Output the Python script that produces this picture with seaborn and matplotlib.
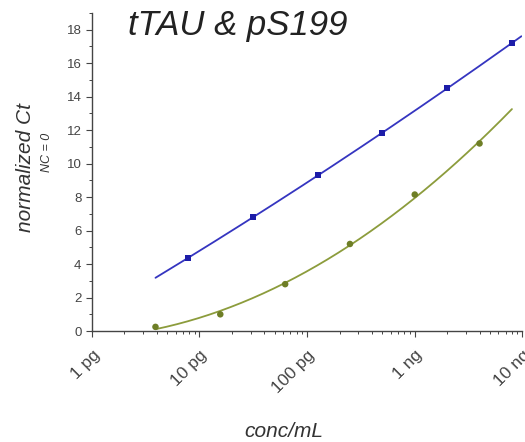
import numpy as np
import pandas as pd
import matplotlib
matplotlib.use("Agg")
import matplotlib.pyplot as plt
import seaborn as sns
from matplotlib.ticker import FixedLocator, LogLocator, MultipleLocator, NullFormatter

# concentrations in pg/mL (4-fold dilution series)
conc_ttau = [7.8, 31.25, 125, 500, 2000, 8000]
ct_ttau = [4.35, 6.8, 9.3, 11.8, 14.5, 17.2]
conc_ps199 = [3.9, 15.6, 62.5, 250, 1000, 4000]
ct_ps199 = [0.25, 1.0, 2.8, 5.2, 8.15, 11.2]

tick_pos = [1, 10, 100, 1000, 10000]
tick_labels = ["1 pg", "10 pg", "100 pg", "1 ng", "10 ng"]

blue_line, blue_pt = "#3535c0", "#1c1ca8"
green_line, green_pt = "#8c9c3c", "#6e7e26"

sns.set_style("ticks")
plt.rcParams["font.family"] = ["Liberation Sans", "DejaVu Sans"]

fig = plt.figure(figsize=(5.25, 4.42), dpi=100)
ax = fig.add_axes([0.175, 0.251, 0.820, 0.720])

def fit_curve(x, y, x0, x1):
    lx = np.log10(x)
    coef = np.polyfit(lx, y, 2)
    gx = np.linspace(np.log10(x0), np.log10(x1), 200)
    return pd.DataFrame({"conc": 10 ** gx, "ct": np.polyval(coef, gx)})

fit_t = fit_curve(conc_ttau, ct_ttau, 3.9, 9800)
fit_p = fit_curve(conc_ps199, ct_ps199, 3.9, 8000)

sns.lineplot(data=fit_t, x="conc", y="ct", color=blue_line, lw=1.3, ax=ax)
sns.lineplot(data=fit_p, x="conc", y="ct", color=green_line, lw=1.3, ax=ax)
sns.scatterplot(x=conc_ttau, y=ct_ttau, color=blue_pt, marker="s", s=18,
                edgecolor="none", ax=ax, zorder=3)
sns.scatterplot(x=conc_ps199, y=ct_ps199, color=green_pt, marker="o", s=22,
                edgecolor="none", ax=ax, zorder=3)

ax.set_xscale("log")
ax.set_xlim(1, 10000)
ax.set_ylim(0, 19)
sns.despine(ax=ax)

ax.xaxis.set_major_locator(FixedLocator(tick_pos))
ax.set_xticklabels(tick_labels, rotation=45, ha="right", va="top",
                   rotation_mode="anchor", fontsize=12.5, color="#444444")
ax.xaxis.set_minor_locator(LogLocator(base=10, subs=np.arange(2, 10)))
ax.xaxis.set_minor_formatter(NullFormatter())
ax.yaxis.set_major_locator(MultipleLocator(2))
ax.yaxis.set_minor_locator(MultipleLocator(1))
ax.tick_params(axis="y", labelsize=9.5, colors="#444444", length=4, width=0.8)
ax.tick_params(axis="x", which="major", length=4, width=0.8, colors="#444444")
ax.tick_params(which="minor", length=2, width=0.7, color="#444444")
ax.tick_params(axis="x", pad=8)
for s in ax.spines.values():
    s.set_color("#444444")
    s.set_linewidth(1.0)

ax.set_xlabel("")
ax.set_ylabel("")
fig.text(0.244, 0.943, "tTAU & pS199", fontsize=25, style="italic", color="#222222",
         ha="left", va="center")
fig.text(0.048, 0.622, "normalized Ct", fontsize=15, style="italic", color="#333333",
         rotation=90, ha="center", va="center")
fig.text(0.089, 0.656, "NC = 0", fontsize=9, style="italic", color="#333333",
         rotation=90, ha="center", va="center")
fig.text(0.54, 0.023, "conc/mL", fontsize=15, style="italic", color="#333333",
         ha="center", va="center")

fig.savefig("out.png", dpi=100, facecolor="white")
